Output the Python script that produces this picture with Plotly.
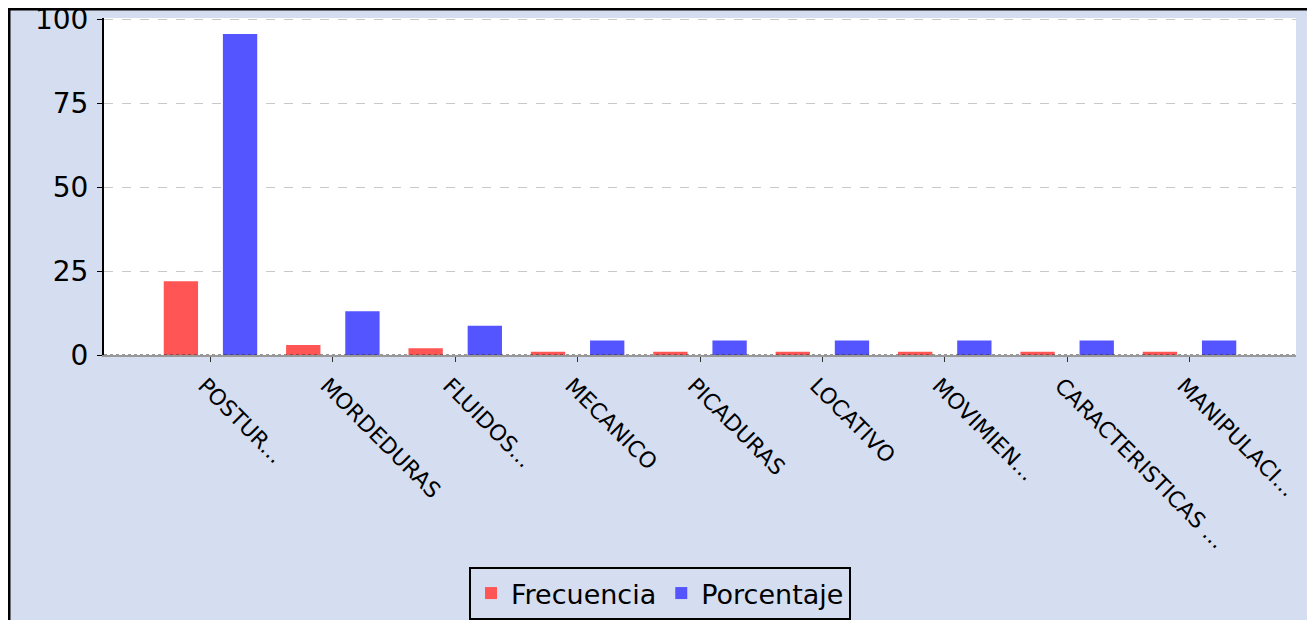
import plotly.graph_objects as go

categories = ["POSTUR...", "MORDEDURAS", "FLUIDOS...", "MECANICO", "PICADURAS",
              "LOCATIVO", "MOVIMIEN...", "CARACTERISTICAS ...", "MANIPULACI..."]
frecuencia = [22, 3, 2, 1, 1, 1, 1, 1, 1]
porcentaje = [95.65, 13.04, 8.7, 4.35, 4.35, 4.35, 4.35, 4.35, 4.35]
y_ticks = [0, 25, 50, 75, 100]

W, H = 1315, 620
ML, MR, MT, MB = 96, 27, 10, 273
PW = W - ML - MR
PH = H - MT - MB

fig = go.Figure()
fig.add_trace(go.Bar(name="Frecuencia", x=categories, y=frecuencia, marker_color="#FF5555", marker_line_width=0))
fig.add_trace(go.Bar(name="Porcentaje", x=categories, y=porcentaje, marker_color="#5555FF", marker_line_width=0))

def px_x(px):
    return (px - ML) / PW

def px_y(py):
    return 1 - (py - MT) / PH

shapes = [
    dict(type="line", xref="paper", yref="y", x0=0, x1=1, y0=0, y1=0,
         line=dict(color="#333333", width=1, dash="dot"), layer="above"),
    dict(type="line", xref="paper", yref="paper", x0=px_x(1), x1=px_x(1), y0=px_y(0), y1=px_y(H + 10),
         line=dict(color="black", width=3)),
    dict(type="line", xref="paper", yref="paper", x0=px_x(0), x1=px_x(W + 10), y0=px_y(1), y1=px_y(1),
         line=dict(color="black", width=3)),
]

fig.update_layout(
    width=W, height=H,
    margin=dict(l=ML, r=MR, t=MT, b=MB, pad=0, autoexpand=False),
    paper_bgcolor="#D5DEF0", plot_bgcolor="white",
    barmode="group", bargap=0.033, bargroupgap=0.42,
    font=dict(family="DejaVu Sans", color="black"),
    showlegend=True,
    legend=dict(orientation="h", x=px_x(461), y=px_y(559), xanchor="left", yanchor="top",
                bgcolor="#D5DEF0", bordercolor="black", borderwidth=2,
                font=dict(size=27, family="DejaVu Sans", color="black")),
    shapes=shapes,
)
fig.update_xaxes(range=[-0.87, 8.87], tickangle=45, tickfont=dict(size=22, family="DejaVu Sans"),
                 ticks="outside", ticklen=5, tickcolor="#333333",
                 ticklabelshift=-6, ticklabelstandoff=2, automargin=False,
                 showline=True, linecolor="#999999", linewidth=2, showgrid=False)
fig.update_yaxes(range=[0, 100.4], tickvals=y_ticks, tickfont=dict(size=28, family="DejaVu Sans"),
                 ticks="outside", ticklen=5, tickcolor="black", ticklabelstandoff=3,
                 ticklabeloverflow="allow", automargin=False,
                 showline=True, linecolor="black", linewidth=2,
                 showgrid=True, gridcolor="#C8C8C8", griddash="dash", gridwidth=1,
                 zeroline=False)

fig.write_html("out.html")
